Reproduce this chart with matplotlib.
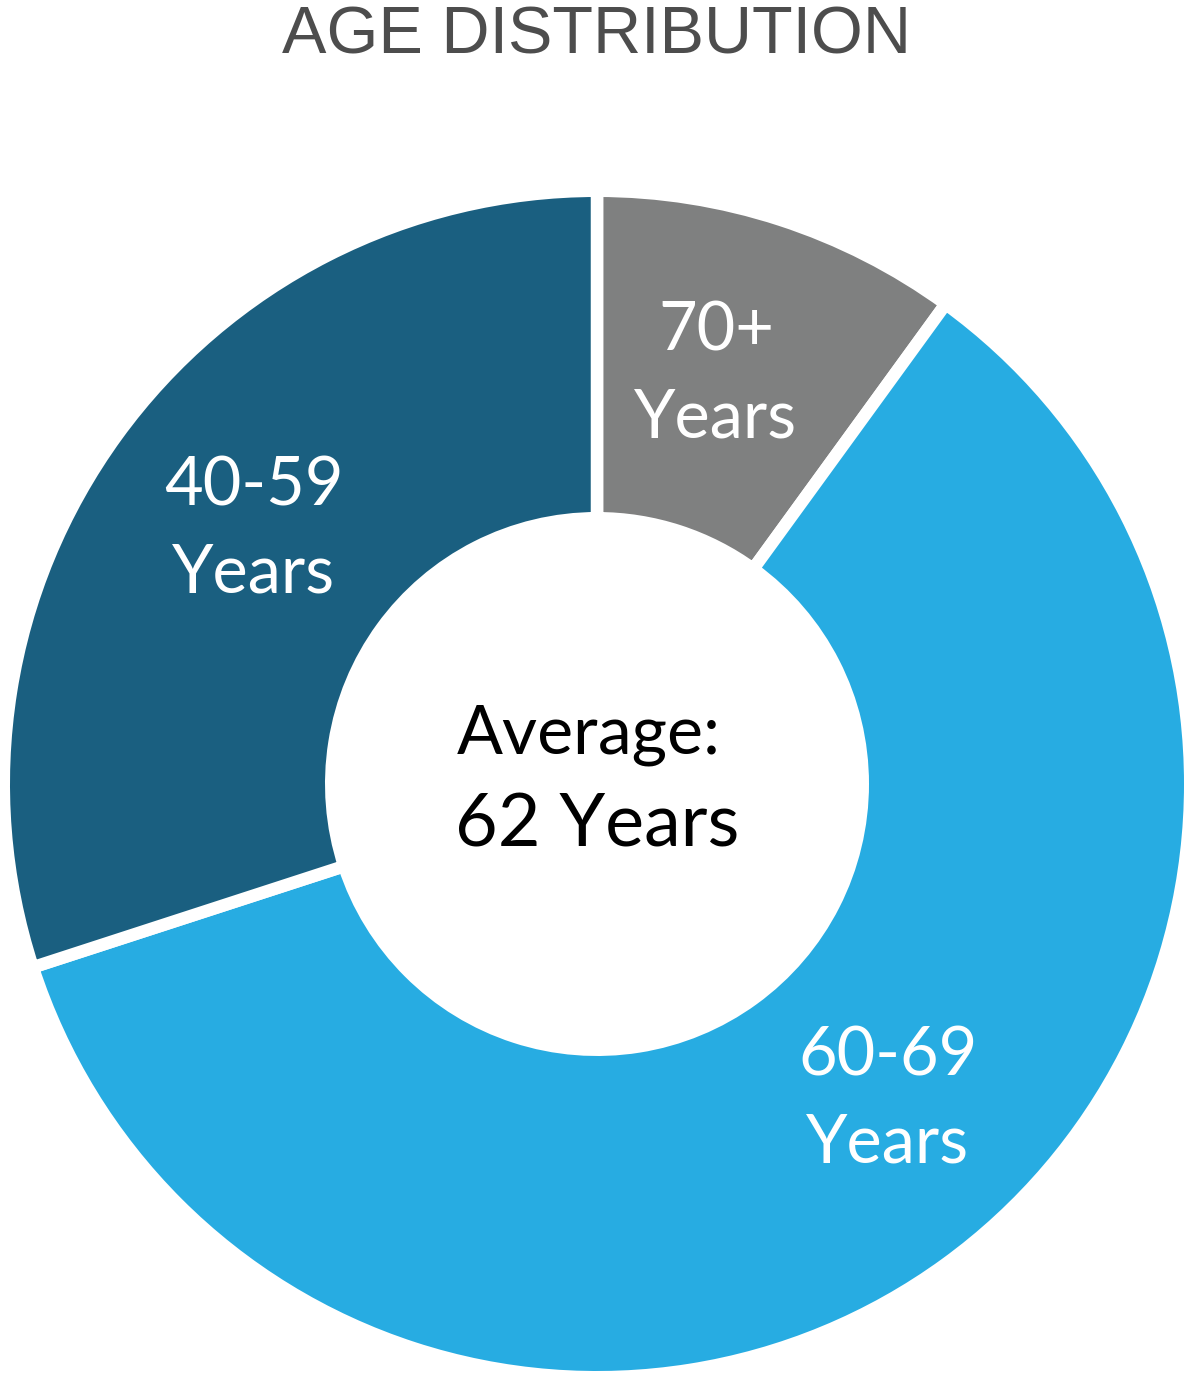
import matplotlib
matplotlib.use("Agg")
import matplotlib.pyplot as plt

title = "AGE DISTRIBUTION"
categories = ["70+\nYears", "60-69\nYears", "40-59\nYears"]
shares = [10, 60, 30]
colors = ["#7F8080", "#27ACE2", "#1A5F80"]
center_line1 = "Average:"
center_line2 = "62 Years"

W, H = 1194, 1382
fig = plt.figure(figsize=(W / 100, H / 100), dpi=100)
ax = fig.add_axes([0, 0, 1, 1])
ax.set_xlim(0, W)
ax.set_ylim(0, H)
ax.set_aspect("equal")
ax.axis("off")

cx, cy = 597, H - 784
gap_lw = 9.0  # points
half = gap_lw / 72 * 100 / 2
R_out = 587 + half
R_in = 272 - half

wedges, _ = ax.pie(shares, colors=colors, startangle=90, counterclock=False,
                   radius=R_out, center=(cx, cy),
                   wedgeprops=dict(width=R_out - R_in, edgecolor="white", linewidth=gap_lw))
ax.set_xlim(0, W)
ax.set_ylim(0, H)
ax.set_aspect("equal")

font = "Lato"
label_pos = [(716, 375), (888, 1100), (254, 530)]
for lab, (x, y) in zip(categories, label_pos):
    ax.text(x, H - y, lab, ha="center", va="center", color="white",
            fontsize=48, family=font, linespacing=1.5)

ax.text(cx - 8, H - 735, center_line1, ha="center", va="center", color="black",
        fontsize=49, family=font)
ax.text(cx, H - 826, center_line2, ha="center", va="center", color="black",
        fontsize=53, family=font)

fig.text(0.5, 1 - 36 / H, title, ha="center", va="center", color="#4D4D4D",
         fontsize=48, family="Liberation Sans")

fig.savefig("out.png", dpi=100, facecolor="white")
